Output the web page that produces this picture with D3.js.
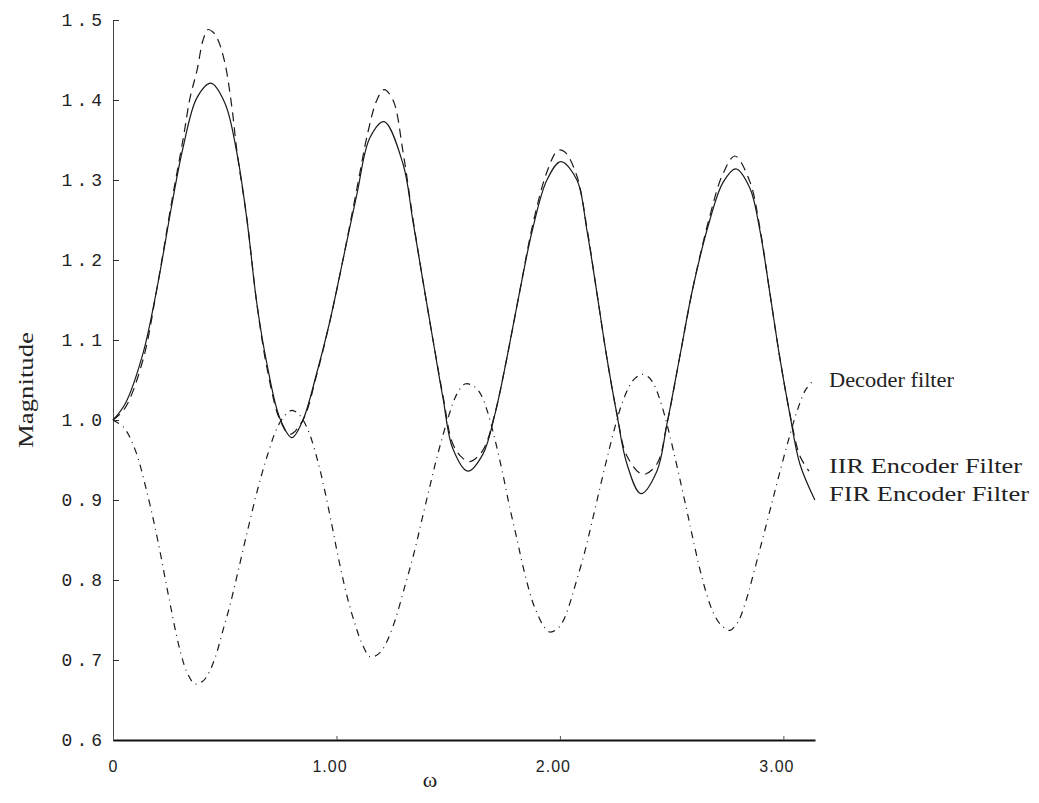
<!DOCTYPE html>
<html>
<head>
<meta charset="utf-8">
<script src="https://cdn.jsdelivr.net/npm/d3@7"></script>
<style>
  body { margin: 0; background: #fff; }
  svg { display: block; }
  .ylab text { font-family: "Liberation Mono", monospace; font-size: 18px; letter-spacing: 4px; fill: #222; }
  .xlab text { font-family: "Liberation Sans", sans-serif; font-size: 16px; letter-spacing: 1px; fill: #222; }
  .note { font-family: "Liberation Serif", serif; font-size: 20px; fill: #222; }
</style>
</head>
<body>
<div id="chart"></div>
<script>
// values (omega, magnitude)
const firOmega = [0, .054, .134, .197, .264, .313, .376, .438, .501, .555, .600, .644, .689, .747, .801, .850, .913, .971,
  1.029, 1.092, 1.150, 1.213, 1.298, 1.342, 1.387, 1.432, 1.477, 1.521, 1.588, 1.655, 1.709, 1.763, 1.821, 1.879, 1.942,
  2.004, 2.076, 2.121, 2.166, 2.210, 2.255, 2.300, 2.362, 2.434, 2.479, 2.537, 2.595, 2.671, 2.730, 2.787, 2.850, 2.895,
  2.940, 2.984, 3.029, 3.074, 3.141];
const firMag = [1.00, 1.02, 1.083, 1.165, 1.27, 1.34, 1.403, 1.421, 1.396, 1.333, 1.249, 1.145, 1.07, 1.002, .978, 1.0, 1.06, 1.124,
  1.2, 1.283, 1.353, 1.373, 1.32, 1.249, 1.174, 1.10, 1.027, .964, .936, .957, 1.007, 1.078, 1.162, 1.24, 1.30,
  1.323, 1.30, 1.237, 1.158, 1.078, 1.007, .945, .908, .936, .995, 1.08, 1.165, 1.25, 1.297, 1.314, 1.29, 1.237,
  1.158, 1.078, 1.007, .945, .90];

const iirOmega = [0, .054, .134, .197, .264, .313, .345, .376, .403, .425, .447, .470, .501, .532, .555, .600, .644, .689, .747,
  .792, .850, .913, .971, 1.029, 1.092, 1.141, 1.181, 1.213, 1.253, 1.298, 1.342, 1.387, 1.432, 1.477, 1.521, 1.566, 1.597,
  1.655, 1.709, 1.763, 1.821, 1.879, 1.942, 1.991, 2.022, 2.076, 2.121, 2.166, 2.210, 2.255, 2.300, 2.371, 2.434, 2.479,
  2.537, 2.595, 2.671, 2.730, 2.783, 2.850, 2.895, 2.940, 2.984, 3.029, 3.074, 3.115];
const iirMag = [1.00, 1.015, 1.075, 1.165, 1.275, 1.35, 1.403, 1.437, 1.475, 1.488, 1.485, 1.475, 1.446, 1.391, 1.335, 1.25, 1.145, 1.065, 1.0,
  .982, 1.0, 1.058, 1.124, 1.2, 1.29, 1.36, 1.40, 1.413, 1.40, 1.335, 1.252, 1.174, 1.10, 1.03, .97, .952, .948,
  .962, 1.008, 1.078, 1.162, 1.245, 1.31, 1.337, 1.335, 1.305, 1.24, 1.158, 1.078, 1.008, .955, .932, .945, .995,
  1.08, 1.165, 1.255, 1.308, 1.33, 1.298, 1.24, 1.158, 1.078, 1.008, .955, .936];

const decOmega = [0, .05, .10, .15, .20, .25, .30, .335, .367, .40, .425, .456, .492, .523, .559, .604, .649, .689, .734,
  .770, .801, .835, .872, .917, .949, .980, 1.007, 1.047, 1.083, 1.115, 1.150, 1.180, 1.208, 1.253, 1.306, 1.351, 1.383,
  1.418, 1.454, 1.508, 1.540, 1.575, 1.610, 1.642, 1.673, 1.709, 1.745, 1.776, 1.808, 1.834, 1.875, 1.902, 1.930, 1.955,
  1.985, 2.013, 2.040, 2.067, 2.112, 2.143, 2.179, 2.215, 2.250, 2.277, 2.310, 2.336, 2.367, 2.395, 2.416, 2.447, 2.479,
  2.506, 2.537, 2.568, 2.595, 2.626, 2.656, 2.685, 2.720, 2.761, 2.790, 2.805, 2.835, 2.859, 2.904, 2.940, 2.976, 3.020,
  3.060, 3.100, 3.141];
const decMag = [1.0, .99, .962, .912, .85, .778, .712, .682, .670, .673, .682, .702, .737, .768, .81, .864, .915, .954, .99,
  1.006, 1.012, 1.006, .988, .948, .91, .868, .83, .78, .745, .72, .704, .706, .714, .742, .792, .838, .876,
  .917, .958, 1.01, 1.033, 1.045, 1.043, 1.034, 1.013, .976, .932, .89, .851, .818, .775, .756, .741, .735,
  .738, .748, .767, .792, .836, .872, .915, .957, .995, 1.02, 1.042, 1.052, 1.057, 1.054, 1.047, 1.026, .995,
  .964, .926, .887, .852, .814, .783, .76, .744, .737, .745, .752, .776, .8, .848, .887, .926, .972,
  1.01, 1.038, 1.051];

const yTicks = [0.6, 0.7, 0.8, 0.9, 1.0, 1.1, 1.2, 1.3, 1.4, 1.5];
const xTicks = [0, 1, 2, 3];
const xTickLabels = ["0", "1.00", "2.00", "3.00"];

const series = [
  { name: "FIR Encoder Filter", omega: firOmega, mag: firMag, dash: null, labelY: 501, labelW: 200 },
  { name: "IIR Encoder Filter", omega: iirOmega, mag: iirMag, dash: "9,6", labelY: 473, labelW: 193 },
  { name: "Decoder filter", omega: decOmega, mag: decMag, dash: "7,5,1,5", labelY: 387, labelW: 125 }
];

const width = 1039, height = 803;
const x = d3.scaleLinear().domain([0, Math.PI]).range([113, 815]);
const y = d3.scaleLinear().domain([0.6, 1.5]).range([740, 20]);

const svg = d3.select("#chart").append("svg")
  .attr("width", width)
  .attr("height", height);

// y axis
const yAxis = svg.append("g")
  .attr("class", "ylab")
  .attr("transform", `translate(${x(0)},0)`)
  .call(d3.axisLeft(y).tickValues(yTicks).tickFormat(d3.format(".1f"))
    .tickSizeInner(-6).tickSizeOuter(0).tickPadding(7));
yAxis.select(".domain").attr("stroke", "#444").attr("stroke-width", 1);
yAxis.selectAll(".tick line").attr("stroke", "#333");

// x axis
const xAxis = svg.append("g")
  .attr("class", "xlab")
  .attr("transform", `translate(0,${y(0.6)})`)
  .call(d3.axisBottom(x).tickValues(xTicks).tickFormat((d, i) => xTickLabels[i])
    .tickSizeInner(-4).tickSizeOuter(0).tickPadding(21));
xAxis.select(".domain").attr("stroke", "#111").attr("stroke-width", 1.8);
xAxis.selectAll(".tick line").attr("stroke", "#555");
xAxis.selectAll(".tick text").attr("dx", d => d === 0 ? 0 : -7);

// curves
const line = d3.line()
  .x(d => x(d[0]))
  .y(d => y(d[1]))
  .curve(d3.curveCatmullRom);

series.forEach(s => {
  const pts = s.omega.map((w, i) => [w, s.mag[i]]);
  svg.append("path")
    .datum(pts)
    .attr("fill", "none")
    .attr("stroke", "#1a1a1a")
    .attr("stroke-width", 1.2)
    .attr("stroke-dasharray", s.dash)
    .attr("d", line);

  svg.append("text")
    .attr("class", "note")
    .attr("x", 829)
    .attr("y", s.labelY)
    .attr("textLength", s.labelW)
    .attr("lengthAdjust", "spacingAndGlyphs")
    .text(s.name);
});

// axis titles
svg.append("text")
  .attr("class", "note")
  .attr("transform", "translate(33,390) rotate(-90)")
  .attr("text-anchor", "middle")
  .attr("textLength", 116)
  .attr("lengthAdjust", "spacingAndGlyphs")
  .style("font-size", "22px")
  .text("Magnitude");

svg.append("text")
  .attr("class", "note")
  .attr("x", 430)
  .attr("y", 787)
  .attr("text-anchor", "middle")
  .style("font-size", "22px")
  .text("ω");
</script>
</body>
</html>
